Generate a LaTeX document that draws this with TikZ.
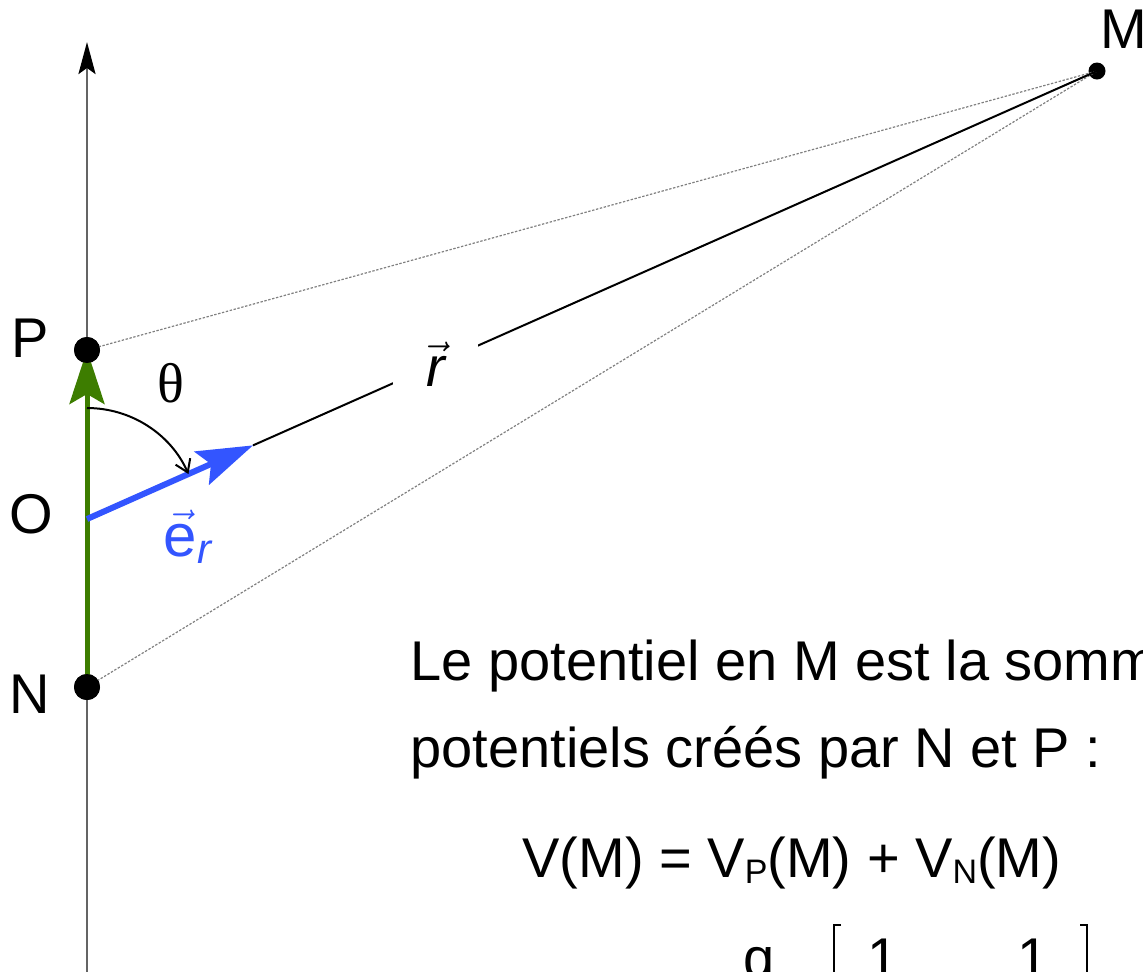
\documentclass[tikz,border=0pt]{standalone}
\usepackage{amsmath}
\usepackage{fontspec}
\setmainfont{Liberation Sans}
\newfontfamily\greekserif{Liberation Serif}
\usetikzlibrary{arrows.meta, calc}
\definecolor{vecblue}{RGB}{51,85,255}
\definecolor{dipgreen}{RGB}{61,125,0}
\definecolor{axisgray}{RGB}{100,100,100}
\newcommand{\lowsub}[1]{\raisebox{-3pt}{\fontsize{17}{17}\selectfont #1}}
\tikzset{
    pointdot/.style={circle, fill=black, inner sep=0pt, minimum size=#1},
    pointdot/.default=13pt,
    ptlabel/.style={font=\fontsize{28}{30}\selectfont, inner sep=0pt},
    bodytext/.style={font=\fontsize{28}{34}\selectfont, inner sep=0pt, anchor=base west},
    axisline/.style={draw=axisgray, line width=1.4pt, -{Stealth[length=16pt, width=8.5pt, inset=3pt, color=black]}},
    guide/.style={gray, line width=0.6pt, dash pattern=on 1.2pt off 0.8pt},
    rline/.style={black, line width=1pt},
    dipole/.style={draw=dipgreen, line width=2.5pt, -{Stealth[length=27pt, width=17.5pt, inset=5pt]}},
    ervec/.style={draw=vecblue, line width=3pt, -{Stealth[length=28pt, width=18pt, inset=5pt]}},
    anglearc/.style={black, line width=1pt, -{Straight Barb[length=6pt, width=8pt]}},
    bracket/.style={black, line width=1.3pt}
}
\begin{document}
\begin{tikzpicture}[x=0.5pt, y=-0.5pt]
  \useasboundingbox (0,0) rectangle (1143,971);
  \clip (0,0) rectangle (1143,971);
  \coordinate (O) at (87,519);
  \coordinate (axbot) at (87,990);
  \coordinate (axtop) at (87,42);
  \node[pointdot] (P) at (87,350) {};
  \node[pointdot] (N) at (87,687) {};
  \node[pointdot=8.5pt] (M) at (1097,71) {};
  \coordinate (ertip) at ($(O)!0.1644!(M.center)$);
  \draw[axisline] (axbot) -- (axtop);
  \draw[guide] (P.center) -- (M.center);
  \draw[guide] (N.center) -- (M.center);
  \draw[rline] (ertip) -- node[pos=0.2165, fill=white, inner sep=0pt, minimum width=42.5pt, minimum height=25pt, font=\fontsize{28}{30}\selectfont] (rlab) {$\vec{\text{\itshape r}}$} (M.center);
  \draw[dipole] (N.center) -- (P.center);
  \draw[ervec] (O) -- (ertip);
  \draw[anglearc] ($(O)+(0,-111)$) arc[start angle=-90, end angle=-23.9, radius=111];
  \node[pointdot] at (P) {};
  \node[pointdot] at (N) {};
  \node[ptlabel] (Plab) at (30,338) {P};
  \node[ptlabel] (Olab) at (31,514) {O};
  \node[ptlabel] (Nlab) at (30,694) {N};
  \node[ptlabel] (Mlab) at (1124,29) {M};
  \node[font=\greekserif\fontsize{28}{30}\selectfont, inner sep=0pt] (theta) at (171,383) {θ};
  \node[font=\fontsize{30}{32}\selectfont, text=vecblue, inner sep=0pt] (erlab) at (188,537) {$\vec{\text{e}}_{\text{\itshape r}}$};
  \node[bodytext] (line1) at (410,680) {Le potentiel en M est la somme};
  \node[bodytext] (line2) at (410,767) {potentiels créés par N et P :};
  \node[bodytext] (vsum) at (522,877) {V(M) = V\lowsub{P}(M) + V\lowsub{N}(M)};
  \node[bodytext] (qnum) at (743,977) {q};
  \node[bodytext] (onep) at (867,977) {1};
  \node[bodytext] (onen) at (1017,977) {1};
  \draw[bracket] (841,925) -- (834,925) -- (834,1000);
  \draw[bracket] (1080,925) -- (1087,925) -- (1087,1000);
\end{tikzpicture}
\end{document}
